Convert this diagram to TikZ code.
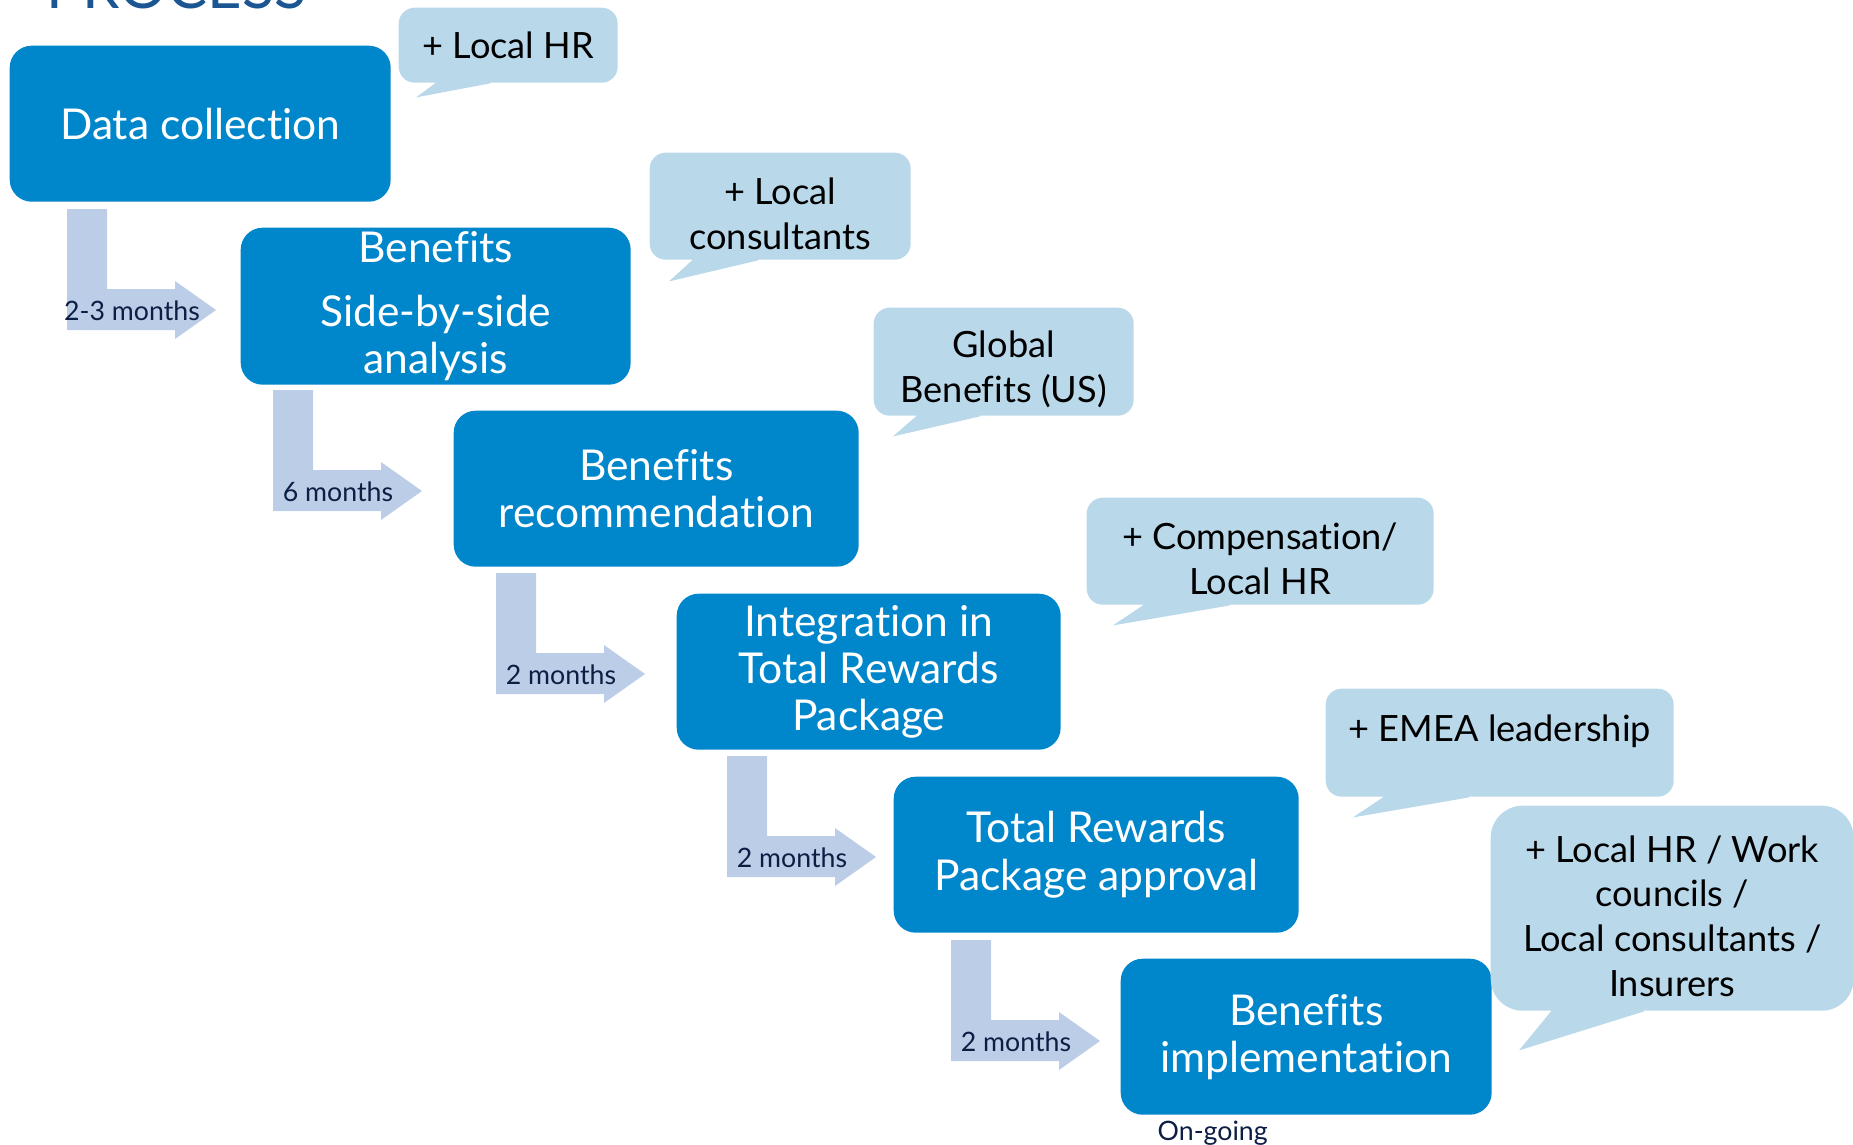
\documentclass[tikz,border=0pt]{standalone}
\usepackage{fontspec}
\setmainfont{Lato}[Ligatures=NoCommon]

\definecolor{stageblue}{HTML}{0086CA}
\definecolor{bubbleblue}{HTML}{B9D8EA}
\definecolor{lagblue}{HTML}{BCCDE7}
\definecolor{navy}{HTML}{0D1E45}
\definecolor{titleblue}{HTML}{1B5693}

% taller first line, pushes bubble text a little down
\newcommand\bubblestrut{\rule{0pt}{4.2mm}}

\begin{document}
\begin{tikzpicture}[x=0.1mm, y=-0.1mm,
  stage/.style={fill=stageblue, rounded corners=2.2mm, text=white, align=center,
    anchor=north west, inner sep=0pt, font=\fontsize{12.1}{13.4}\selectfont},
  bubble/.style={fill=bubbleblue, rounded corners=1.6mm, align=center,
    anchor=north west, inner sep=0pt, font=\fontsize{10.3}{12.7}\selectfont},
  months/.style={text=navy, inner sep=0pt, font=\fontsize{7.6}{9}\selectfont}]
 \useasboundingbox (0,0) rectangle (1853,1145);

 % heading, mostly above the page
 \node [anchor=base west, inner sep=0pt, text=titleblue, font=\fontsize{17}{17}\selectfont] (title) at (46,8) {PROCESS};

 % the six stages
 \node [stage, minimum width=38.1mm, minimum height=15.6mm] (data) at (9,45) {Data collection};
 \node [stage, minimum width=39.0mm, minimum height=15.7mm] (side) at (240,227) {Benefits\\[1.7mm] Side-by-side\\ analysis};
 \node [stage, minimum width=40.5mm, minimum height=15.6mm] (reco) at (453,410) {Benefits\\ recommendation};
 \node [stage, minimum width=38.4mm, minimum height=15.6mm] (integ) at (676,593) {Integration in\\ Total Rewards\\ Package};
 \node [stage, minimum width=40.5mm, minimum height=15.6mm] (appr) at (893,776) {Total Rewards\\ Package approval};
 \node [stage, minimum width=37.1mm, minimum height=15.6mm] (impl) at (1120,958) {Benefits\\ implementation};
 \node [anchor=base west, inner sep=0pt, text=navy, font=\fontsize{7.6}{9}\selectfont] (ongoing) at (1157,1140) {On-going};

 % bent arrows with the lead times
 \foreach \x/\y/\t [count=\i] in {67/209/2-3 months, 273/390/6 months, 496/573/2 months, 727/756/2 months, 951/940/2 months} {
  \begin{scope}[shift={(\x,\y)}]
   \fill [lagblue] (0,0) -- (40,0) -- (40,80) -- (108,80) -- (108,72) -- (149,101)
     -- (108,130) -- (108,121) -- (0,121) -- cycle;
   \node [months] (lag\i) at (65,102) {\t};
  \end{scope}
 }

 % who joins at each stage
 \node [bubble, minimum width=21.9mm, minimum height=7.5mm] (c1) at (398,7) {+ Local HR};
 \fill [bubbleblue] ([xshift=3.7mm,yshift=1mm]c1.south west) -- ([xshift=9.2mm,yshift=1mm]c1.south west)
   -- ([xshift=9.2mm]c1.south west) -- ([xshift=1.8mm,yshift=-1.4mm]c1.south west) -- ([xshift=3.7mm]c1.south west) -- cycle;

 \node [bubble, minimum width=26.1mm, minimum height=10.7mm] (c2) at (649,152) {\bubblestrut+ Local\\ consultants};
 \fill [bubbleblue] ([xshift=4.3mm,yshift=1mm]c2.south west) -- ([xshift=10.9mm,yshift=1mm]c2.south west)
   -- ([xshift=10.9mm]c2.south west) -- ([xshift=2mm,yshift=-2.1mm]c2.south west) -- ([xshift=4.3mm]c2.south west) -- cycle;

 \node [bubble, minimum width=26.0mm, minimum height=10.8mm] (c3) at (873,307) {\bubblestrut Global\\ Benefits (US)};
 \fill [bubbleblue] ([xshift=4.3mm,yshift=1mm]c3.south west) -- ([xshift=10.7mm,yshift=1mm]c3.south west)
   -- ([xshift=10.7mm]c3.south west) -- ([xshift=2mm,yshift=-2mm]c3.south west) -- ([xshift=4.3mm]c3.south west) -- cycle;

 \node [bubble, minimum width=34.7mm, minimum height=10.7mm] (c4) at (1086,497) {\bubblestrut+ Compensation/\\ Local HR};
 \fill [bubbleblue] ([xshift=5.7mm,yshift=1mm]c4.south west) -- ([xshift=14.4mm,yshift=1mm]c4.south west)
   -- ([xshift=14.4mm]c4.south west) -- ([xshift=2.7mm,yshift=-2mm]c4.south west) -- ([xshift=5.7mm]c4.south west) -- cycle;

 \node [bubble, minimum width=34.8mm, minimum height=10.8mm] (c5) at (1325,688) {\bubblestrut+ EMEA leadership\\ \mbox{}};
 \fill [bubbleblue] ([xshift=5.8mm,yshift=1mm]c5.south west) -- ([xshift=14.4mm,yshift=1mm]c5.south west)
   -- ([xshift=14.4mm]c5.south west) -- ([xshift=2.8mm,yshift=-2mm]c5.south west) -- ([xshift=5.8mm]c5.south west) -- cycle;

 \node [bubble, rounded corners=3.2mm, minimum width=36.3mm, minimum height=20.5mm] (c6) at (1490,805)
   {\bubblestrut+ Local HR / Work\\ councils /\\ Local consultants /\\ Insurers};
 \fill [bubbleblue] ([xshift=6.1mm,yshift=1mm]c6.south west) -- ([xshift=15.4mm,yshift=1mm]c6.south west)
   -- ([xshift=15.4mm]c6.south west) -- ([xshift=2.9mm,yshift=-3.9mm]c6.south west) -- ([xshift=6.1mm]c6.south west) -- cycle;
\end{tikzpicture}
\end{document}
